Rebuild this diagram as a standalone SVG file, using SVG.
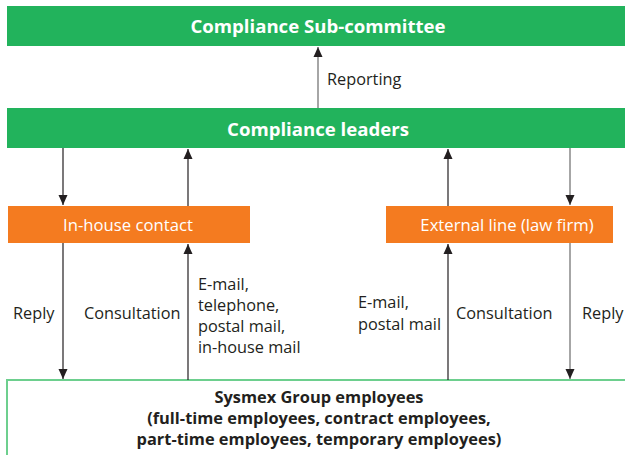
<svg xmlns="http://www.w3.org/2000/svg" width="625" height="455" viewBox="0 0 625 455">
<defs>
<marker id="ah" viewBox="0 0 10 10" refX="10" refY="5" markerWidth="10" markerHeight="10" markerUnits="userSpaceOnUse" orient="auto"><path d="M0,0.5 L10,5 L0,9.5 z" fill="#231f20"/></marker>
</defs>
<style>
.g{fill:#22b35c}
.o{fill:#f47b20}
.hw{font-family:"Open Sans","Noto Sans",sans-serif;font-weight:bold;fill:#fff;text-anchor:middle;font-size:18.6px}
.ow{font-family:"Open Sans","Noto Sans",sans-serif;fill:#fff;text-anchor:middle;font-size:16.7px}
.lb{font-family:"Open Sans","Noto Sans",sans-serif;fill:#231f20;font-size:16.3px}
.bb{font-family:"Open Sans","Noto Sans",sans-serif;font-weight:bold;fill:#231f20;text-anchor:middle;font-size:16.4px}
.c{stroke:#231f20;stroke-width:1.2;fill:none;marker-end:url(#ah)}
.cg{stroke:#808080;stroke-width:1.4;fill:none;marker-end:url(#ah)}
</style>
<rect width="625" height="455" fill="#fff"/>
<g id="subcommittee">
<rect class="g" x="7" y="6" width="630" height="40"/>
<text class="hw" x="318" y="33">Compliance Sub-committee</text>
</g>
<g id="leaders">
<rect class="g" x="7" y="108" width="630" height="40"/>
<text class="hw" x="318" y="136">Compliance leaders</text>
</g>
<g id="inhouse">
<rect class="o" x="8" y="206" width="242" height="37"/>
<text class="ow" x="128" y="231">In-house contact</text>
</g>
<g id="external">
<rect class="o" x="386" y="206" width="227" height="37"/>
<text class="ow" x="507" y="231">External line (law firm)</text>
</g>
<g id="employees">
<rect x="7" y="380" width="640" height="90" fill="#fff" stroke="#6dcf8e" stroke-width="2"/>
<text class="bb" x="319" y="403">Sysmex Group employees</text>
<text class="bb" x="319" y="424">(full-time employees, contract employees,</text>
<text class="bb" x="319" y="445">part-time employees, temporary employees)</text>
</g>
<g id="connectors">
<line class="cg" x1="318" y1="108" x2="318" y2="47"/>
<line class="c" x1="63" y1="148" x2="63" y2="205"/>
<line class="c" x1="188" y1="206" x2="188" y2="149"/>
<line class="c" x1="63" y1="243" x2="63" y2="379"/>
<line class="c" x1="188" y1="380" x2="188" y2="244"/>
<line class="c" x1="448" y1="206" x2="448" y2="149"/>
<line class="cg" x1="570" y1="148" x2="570" y2="205"/>
<line class="c" x1="448" y1="380" x2="448" y2="244"/>
<line class="cg" x1="570" y1="243" x2="570" y2="379"/>
</g>
<g id="labels">
<text class="lb" x="327" y="85">Reporting</text>
<text class="lb" x="13" y="319">Reply</text>
<text class="lb" x="84" y="319">Consultation</text>
<text class="lb" x="198" y="290">E-mail,</text>
<text class="lb" x="198" y="311">telephone,</text>
<text class="lb" x="198" y="332">postal mail,</text>
<text class="lb" x="198" y="353">in-house mail</text>
<text class="lb" x="358" y="308">E-mail,</text>
<text class="lb" x="358" y="330">postal mail</text>
<text class="lb" x="456" y="319">Consultation</text>
<text class="lb" x="582" y="319">Reply</text>
</g>
</svg>
